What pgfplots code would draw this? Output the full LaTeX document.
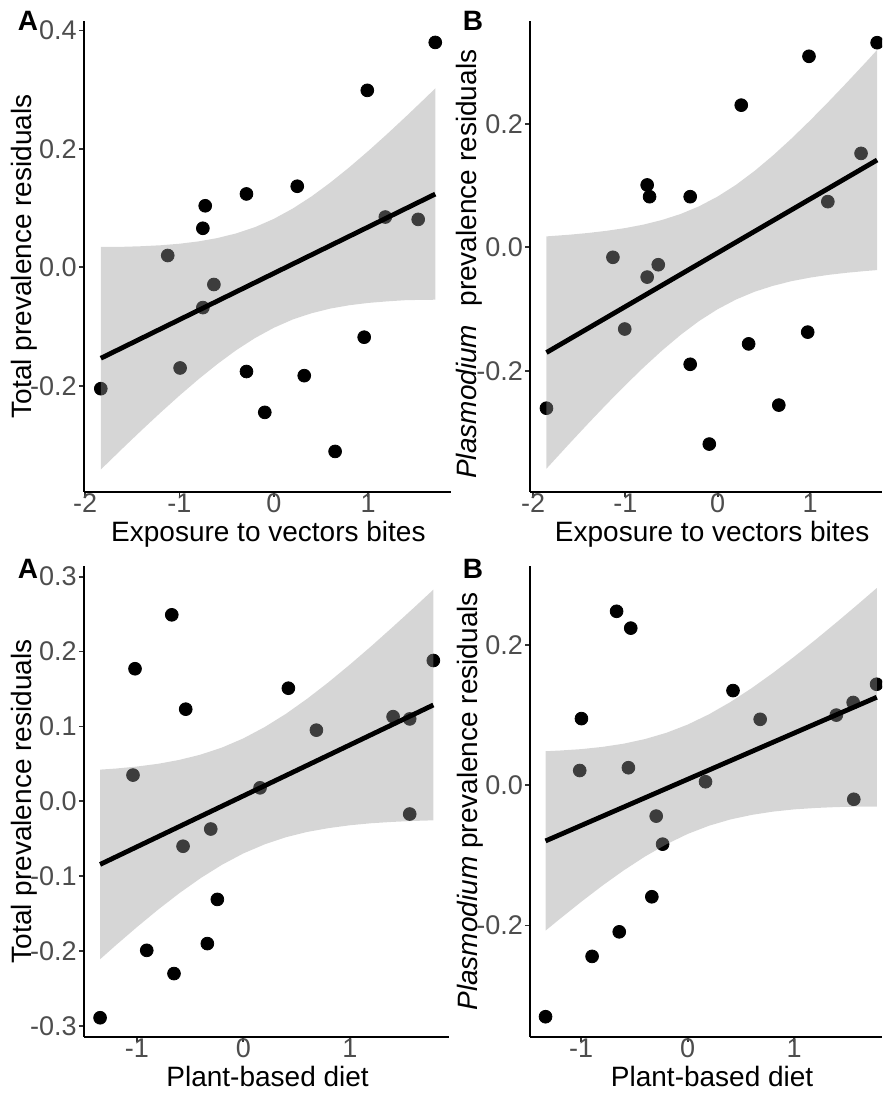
\documentclass[border=0pt]{standalone}
\usepackage{fontspec}
\setmainfont{Liberation Sans}
\usepackage{pgfplots}
\pgfplotsset{compat=1.18}
\definecolor{tickgray}{HTML}{4D4D4D}
\definecolor{bandgray}{HTML}{999999}

\pgfplotsset{
  resid/.style={
    scale only axis,
    clip marker paths=true,
    axis x line*=bottom, axis y line*=left,
    axis line style={line width=1.1pt, black},
    tick align=outside, major tick length=2.5pt,
    tick style={line width=0.9pt, black!80},
    tick label style={font=\fontsize{13.5}{15}\selectfont, text=tickgray, inner sep=1pt},
    xticklabel style={yshift=2.5pt, text depth=0pt},
    label style={font=\fontsize{14}{16}\selectfont, inner sep=0pt},
    xlabel style={anchor=base, yshift=-25pt, text height=0.72em},
  },
  pts/.style={only marks, mark=*, mark size=3.2pt, black},
  band/.style={draw=none, fill=bandgray, fill opacity=0.4},
  fit/.style={black, line width=2.4pt, no marks},
}

\begin{document}
\begin{tikzpicture}

% top left: total prevalence vs exposure
\begin{axis}[resid, at={(42pt,301.65pt)}, anchor=south west,
  width=182.5pt, height=235.5pt,
  xmin=-2.011, xmax=1.872, ymin=-0.379, ymax=0.4167,
  xtick={-2,-1,0,1}, xticklabels={-2,-1,0,1},
  ytick={-0.2,0,0.2,0.4}, yticklabels={-0.2,0.0,0.2,0.4},
  xlabel={Exposure to vectors bites},
  xlabel style={at={(axis description cs:0.503,0)}},
  ylabel={Total prevalence residuals},
  ylabel style={at={(axis description cs:-0.1425,0.5)}, anchor=base},
]
\addplot[pts] coordinates {
 (-1.833,-0.205) (-1.124,0.020) (-0.993,-0.170) (-0.727,0.104) (-0.752,0.066)
 (-0.752,-0.068) (-0.635,-0.029) (-0.290,0.124) (-0.290,-0.176) (-0.096,-0.245)
 (0.248,0.137) (0.322,-0.183) (0.649,-0.311) (0.957,-0.118) (0.990,0.299)
 (1.181,0.085) (1.529,0.081) (1.710,0.380)};
\addplot[band] coordinates {
 (-1.833,0.0344) (-1.6,0.0347) (-1.4,0.0357) (-1.2,0.0373) (-1.0,0.0399) (-0.8,0.0438)
 (-0.6,0.0494) (-0.4,0.0573) (-0.2,0.0679) (0,0.0819) (0.2,0.0993) (0.4,0.1199)
 (0.6,0.1434) (0.8,0.1691) (1.0,0.1965) (1.2,0.2252) (1.4,0.2549) (1.6,0.2853) (1.71,0.3023)
 (1.71,-0.0547) (1.6,-0.0549) (1.4,-0.0554) (1.2,-0.0575) (1.0,-0.0601) (0.8,-0.0640)
 (0.6,-0.0696) (0.4,-0.0775) (0.2,-0.0881) (0,-0.1021) (-0.2,-0.1195) (-0.4,-0.1401)
 (-0.6,-0.1636) (-0.8,-0.1893) (-1.0,-0.2167) (-1.2,-0.2454) (-1.4,-0.2751) (-1.6,-0.3055) (-1.833,-0.3416)};
\addplot[fit] coordinates {(-1.833,-0.1536) (1.71,0.1238)};
\end{axis}

% top right: Plasmodium prevalence vs exposure
\begin{axis}[resid, at={(265.15pt,301.65pt)}, anchor=south west,
  width=175.85pt, height=235.5pt,
  xmin=-2.03, xmax=1.78, ymin=-0.395, ymax=0.3666,
  xtick={-2,-1,0,1}, xticklabels={-2,-1,0,1},
  ytick={-0.2,0,0.2}, yticklabels={-0.2,0.0,0.2},
  xlabel={Exposure to vectors bites},
  xlabel style={at={(axis description cs:0.517,0)}},
  ylabel={{\itshape Plasmodium}\hspace{0.65em}prevalence residuals},
  ylabel style={at={(axis description cs:-0.1535,0.483)}, anchor=base},
]
\addplot[pts] coordinates {
 (-1.855,-0.260) (-1.135,-0.016) (-1.007,-0.132) (-0.764,0.101) (-0.738,0.082)
 (-0.764,-0.048) (-0.644,-0.028) (-0.298,0.082) (-0.298,-0.189) (-0.091,-0.318)
 (0.255,0.230) (0.335,-0.156) (0.662,-0.255) (0.975,-0.137) (0.989,0.309)
 (1.193,0.074) (1.553,0.152) (1.727,0.331)};
\addplot[band] coordinates {
 (-1.855,0.0178) (-1.6,0.0206) (-1.4,0.0234) (-1.2,0.0269) (-1.0,0.0313) (-0.8,0.0370)
 (-0.6,0.0445) (-0.4,0.0541) (-0.2,0.0666) (0,0.0823) (0.2,0.1013) (0.4,0.1237)
 (0.6,0.1488) (0.8,0.1761) (1.0,0.2051) (1.2,0.2354) (1.4,0.2667) (1.6,0.2986) (1.727,0.3193)
 (1.727,-0.0367) (1.6,-0.0382) (1.4,-0.0410) (1.2,-0.0444) (1.0,-0.0489) (0.8,-0.0546)
 (0.6,-0.0621) (0.4,-0.0717) (0.2,-0.0842) (0,-0.0999) (-0.2,-0.1189) (-0.4,-0.1413)
 (-0.6,-0.1664) (-0.8,-0.1937) (-1.0,-0.2227) (-1.2,-0.2530) (-1.4,-0.2843) (-1.6,-0.3163) (-1.855,-0.3578)};
\addplot[fit] coordinates {(-1.855,-0.1700) (1.727,0.1413)};
\end{axis}

% bottom left: total prevalence vs plant-based diet
\begin{axis}[resid, at={(42pt,29.15pt)}, anchor=south west,
  width=182.5pt, height=235.35pt,
  xmin=-1.496, xmax=1.931, ymin=-0.3143, ymax=0.3142,
  xtick={-1,0,1}, xticklabels={-1,0,1},
  ytick={-0.3,-0.2,-0.1,0,0.1,0.2,0.3}, yticklabels={-0.3,-0.2,-0.1,0.0,0.1,0.2,0.3},
  xlabel={Plant-based diet},
  xlabel style={at={(axis description cs:0.503,0)}},
  ylabel={Total prevalence residuals},
  ylabel style={at={(axis description cs:-0.1435,0.5)}, anchor=base},
]
\addplot[pts] coordinates {
 (-1.345,-0.289) (-1.036,0.035) (-1.017,0.177) (-0.907,-0.199) (-0.672,0.249)
 (-0.566,-0.060) (-0.541,0.123) (-0.651,-0.230) (-0.306,-0.037) (-0.338,-0.190)
 (-0.244,-0.131) (0.157,0.018) (0.423,0.151) (0.686,0.095) (1.406,0.113)
 (1.562,0.110) (1.562,-0.017) (1.784,0.188)};
\addplot[band] coordinates {
 (-1.345,0.0423) (-1.2,0.0437) (-1.0,0.0464) (-0.8,0.0501) (-0.6,0.0553) (-0.4,0.0624)
 (-0.2,0.0718) (0,0.0840) (0.2,0.0991) (0.4,0.1168) (0.6,0.1370) (0.8,0.1590)
 (1.0,0.1825) (1.2,0.2070) (1.4,0.2324) (1.6,0.2583) (1.784,0.2826)
 (1.784,-0.0254) (1.6,-0.0262) (1.4,-0.0275) (1.2,-0.0293) (1.0,-0.0320) (0.8,-0.0358)
 (0.6,-0.0409) (0.4,-0.0480) (0.2,-0.0575) (0,-0.0696) (-0.2,-0.0847) (-0.4,-0.1025)
 (-0.6,-0.1226) (-0.8,-0.1446) (-1.0,-0.1681) (-1.2,-0.1926) (-1.345,-0.2109)};
\addplot[fit] coordinates {(-1.345,-0.0843) (1.784,0.1286)};
\end{axis}

% bottom right: Plasmodium prevalence vs plant-based diet
\begin{axis}[resid, at={(265.15pt,29.15pt)}, anchor=south west,
  width=175.85pt, height=235.35pt,
  xmin=-1.478, xmax=1.824, ymin=-0.3585, ymax=0.3126,
  xtick={-1,0,1}, xticklabels={-1,0,1},
  ytick={-0.2,0,0.2}, yticklabels={-0.2,0.0,0.2},
  xlabel={Plant-based diet},
  xlabel style={at={(axis description cs:0.517,0)}},
  ylabel={{\itshape Plasmodium} prevalence residuals},
  ylabel style={at={(axis description cs:-0.15,0.5)}, anchor=base},
]
\addplot[pts] coordinates {
 (-1.335,-0.330) (-1.014,0.021) (-0.998,0.095) (-0.898,-0.244) (-0.668,0.248)
 (-0.535,0.224) (-0.557,0.025) (-0.643,-0.209) (-0.296,-0.044) (-0.236,-0.084)
 (-0.337,-0.159) (0.167,0.005) (0.425,0.135) (0.680,0.094) (1.395,0.100)
 (1.553,0.118) (1.559,-0.020) (1.773,0.144)};
\addplot[band] coordinates {
 (-1.335,0.0485) (-1.2,0.0495) (-1.0,0.0515) (-0.8,0.0547) (-0.6,0.0593) (-0.4,0.0659)
 (-0.2,0.0748) (0,0.0865) (0.2,0.1012) (0.4,0.1186) (0.6,0.1384) (0.8,0.1601)
 (1.0,0.1833) (1.2,0.2075) (1.4,0.2326) (1.6,0.2583) (1.775,0.2812)
 (1.775,-0.0303) (1.6,-0.0305) (1.4,-0.0311) (1.2,-0.0324) (1.0,-0.0344) (0.8,-0.0376)
 (0.6,-0.0423) (0.4,-0.0488) (0.2,-0.0577) (0,-0.0694) (-0.2,-0.0841) (-0.4,-0.1015)
 (-0.6,-0.1213) (-0.8,-0.1430) (-1.0,-0.1662) (-1.2,-0.1905) (-1.335,-0.2073)};
\addplot[fit] coordinates {(-1.335,-0.0794) (1.775,0.1255)};
\end{axis}

% panel letters
\begin{scope}[every node/.style={font=\fontsize{14}{16}\selectfont\bfseries, anchor=base, inner sep=0pt}]
\node at (14pt,532pt) {A};
\node at (236.5pt,532pt) {B};
\node at (14pt,258pt) {A};
\node at (236.5pt,258pt) {B};
\end{scope}

\pgfresetboundingbox
\useasboundingbox (0,0) rectangle (441pt,547.5pt);
\end{tikzpicture}
\end{document}
